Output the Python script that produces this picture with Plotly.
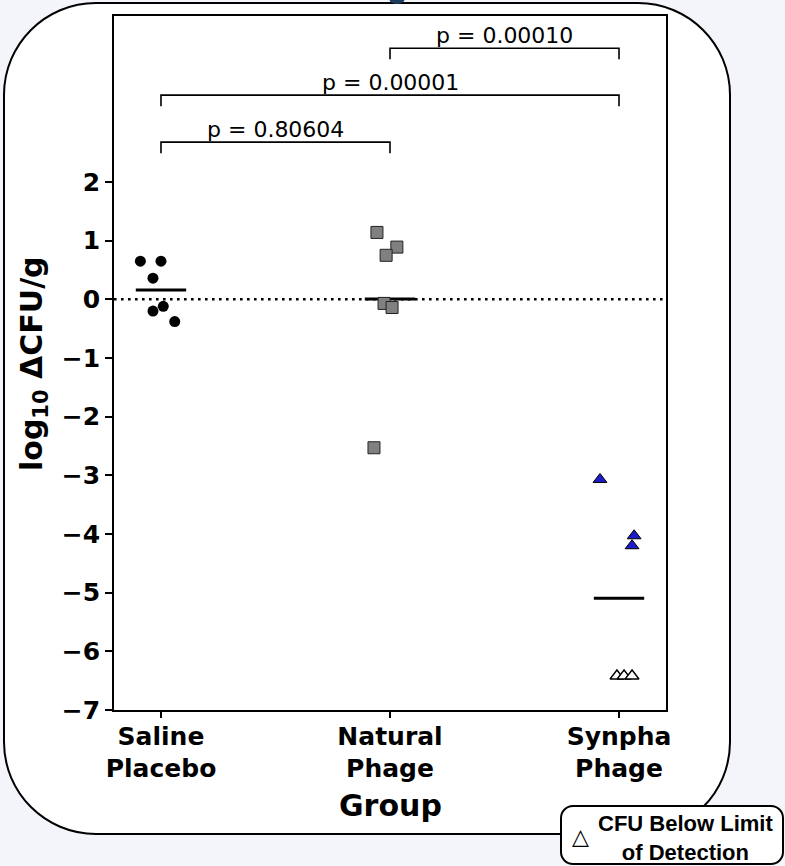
import numpy as np
import plotly.graph_objects as go

# ---------------- data ----------------
categories = ["Saline<br>Placebo", "Natural<br>Phage", "Synpha<br>Phage"]
cat_pos = [0, 1, 2]

saline_vals = [0.65, 0.65, 0.36, -0.20, -0.12, -0.38]
saline_jit = [-0.09, 0.00, -0.035, -0.035, 0.01, 0.06]

natural_vals = [1.14, 0.89, 0.75, -0.07, -0.14, -2.53]
natural_jit = [-0.057, 0.03, -0.017, -0.026, 0.009, -0.07]

synpha_vals = [-3.07, -4.03, -4.20]
synpha_jit = [-0.083, 0.066, 0.057]
synpha_lod_vals = [-6.42, -6.42, -6.42]
synpha_lod_jit = [-0.009, 0.022, 0.057]

pairs = [(0, 1), (0, 2), (1, 2)]
p_values = ["p = 0.80604", "p = 0.00001", "p = 0.00010"]
bracket_y = [2.68, 3.48, 4.28]

y_ticks = [2, 1, 0, -1, -2, -3, -4, -5, -6, -7]

# ---------------- layout helpers ----------------
W, H = 785, 866


def px(x):
    return x / W


def py(y):
    return 1 - y / H


def rounded_rect(x0, y0, x1, y1, r):
    k = 0.5523 * r
    pts = []
    pts.append(f"M {px(x0 + r)} {py(y0)}")
    pts.append(f"L {px(x1 - r)} {py(y0)}")
    pts.append(f"C {px(x1 - r + k)} {py(y0)} {px(x1)} {py(y0 + r - k)} {px(x1)} {py(y0 + r)}")
    pts.append(f"L {px(x1)} {py(y1 - r)}")
    pts.append(f"C {px(x1)} {py(y1 - r + k)} {px(x1 - r + k)} {py(y1)} {px(x1 - r)} {py(y1)}")
    pts.append(f"L {px(x0 + r)} {py(y1)}")
    pts.append(f"C {px(x0 + r - k)} {py(y1)} {px(x0)} {py(y1 - r + k)} {px(x0)} {py(y1 - r)}")
    pts.append(f"L {px(x0)} {py(y0 + r)}")
    pts.append(f"C {px(x0)} {py(y0 + r - k)} {px(x0 + r - k)} {py(y0)} {px(x0 + r)} {py(y0)}")
    pts.append("Z")
    return " ".join(pts)


fig = go.Figure()

# mean lines
half = 0.11
groups = [
    (0, saline_vals),
    (1, natural_vals),
    (2, synpha_vals + synpha_lod_vals),
]
for c, vals in groups:
    m = float(np.mean(vals))
    fig.add_trace(go.Scatter(
        x=[cat_pos[c] - half, cat_pos[c] + half], y=[m, m], mode="lines",
        line=dict(color="black", width=3), hoverinfo="skip", showlegend=False))

# brackets
drop = 0.19
for (a, b), yb in zip(pairs, bracket_y):
    fig.add_trace(go.Scatter(
        x=[cat_pos[a], cat_pos[a], cat_pos[b], cat_pos[b]],
        y=[yb - drop, yb, yb, yb - drop], mode="lines",
        line=dict(color="black", width=1.6), hoverinfo="skip", showlegend=False))

# points
fig.add_trace(go.Scatter(
    x=[cat_pos[0] + j for j in saline_jit], y=saline_vals, mode="markers",
    marker=dict(symbol="circle", size=11, color="black", line=dict(width=0)),
    showlegend=False))
fig.add_trace(go.Scatter(
    x=[cat_pos[1] + j for j in natural_jit], y=natural_vals, mode="markers",
    marker=dict(symbol="square", size=12, color="#808080",
                line=dict(color="#222222", width=1)),
    showlegend=False))
fig.add_trace(go.Scatter(
    x=[cat_pos[2] + j for j in synpha_jit], y=synpha_vals, mode="markers",
    marker=dict(symbol="triangle-up", size=12, color="#1c1cc8",
                line=dict(color="black", width=1)),
    showlegend=False))
fig.add_trace(go.Scatter(
    x=[cat_pos[2] + j for j in synpha_lod_jit], y=synpha_lod_vals, mode="markers",
    marker=dict(symbol="triangle-up", size=12, color="white",
                line=dict(color="black", width=1.4)),
    showlegend=False))

shapes = [
    # outer rounded panel
    dict(type="path", xref="paper", yref="paper", layer="below",
         path=rounded_rect(4, 3, 730, 834, 92),
         fillcolor="white", line=dict(color="black", width=2)),
    # zero reference line
    dict(type="line", xref="x domain", yref="y", x0=0, x1=1, y0=0, y1=0,
         layer="below", line=dict(color="black", width=2.6, dash="2.6px,4.4px")),
    # legend-like box
    dict(type="path", xref="paper", yref="paper", layer="below",
         path=rounded_rect(561, 806, 783, 864, 12),
         fillcolor="white", line=dict(color="black", width=2)),
    # clipped fragment of a title above the page
    dict(type="circle", xref="paper", yref="paper", layer="above",
         x0=px(389), x1=px(405), y0=py(4), y1=py(-8),
         fillcolor="#1b3a5c", line=dict(width=0)),
]

annotations = []
for (a, b), yb, txt in zip(pairs, bracket_y, p_values):
    annotations.append(dict(
        x=(cat_pos[a] + cat_pos[b]) / 2, y=yb + 0.21, xref="x", yref="y",
        text=txt, showarrow=False, xanchor="center", yanchor="middle",
        font=dict(family="DejaVu Sans", size=22, color="black")))

annotations.append(dict(
    x=px(33), y=py(364), xref="paper", yref="paper", textangle=-90,
    xanchor="center", yanchor="middle",
    text="log<sub>10</sub> ΔCFU/g", showarrow=False,
    font=dict(family="DejaVu Sans", size=30, color="black", weight="bold")))
annotations.append(dict(
    x=px(390), y=py(805), xref="paper", yref="paper",
    xanchor="center", yanchor="middle",
    text="Group", showarrow=False,
    font=dict(family="DejaVu Sans", size=30, color="black", weight="bold")))
annotations.append(dict(
    x=px(580), y=py(836), xref="paper", yref="paper",
    xanchor="center", yanchor="middle",
    text="△", showarrow=False,
    font=dict(family="DejaVu Sans", size=22, color="black", weight="bold")))
annotations.append(dict(
    x=px(685), y=py(838), xref="paper", yref="paper",
    xanchor="center", yanchor="middle",
    text="CFU Below Limit<br>of Detection", showarrow=False,
    font=dict(family="Liberation Sans", size=22, color="black", weight="bold")))

fig.update_layout(
    width=W, height=H,
    margin=dict(l=0, r=0, t=0, b=0, pad=0, autoexpand=False),
    paper_bgcolor="#f3f5fb",
    plot_bgcolor="rgba(0,0,0,0)",
    shapes=shapes,
    annotations=annotations,
    xaxis=dict(
        domain=[px(114), px(666)], range=[-0.2052, 2.2052], automargin=False,
        tickvals=cat_pos, ticktext=categories,
        showgrid=False, zeroline=False,
        showline=True, linecolor="black", linewidth=1.6, mirror=True,
        ticks="outside", ticklen=6, tickwidth=1.5, tickcolor="black",
        ticklabelstandoff=-3,
        tickfont=dict(family="DejaVu Sans", size=25, color="black", weight="bold"),
    ),
    yaxis=dict(
        domain=[py(710), py(16)], range=[-7, 4.829], automargin=False,
        tickvals=y_ticks,
        showgrid=False, zeroline=False,
        showline=True, linecolor="black", linewidth=1.6, mirror=True,
        ticks="outside", ticklen=7, tickwidth=1.5, tickcolor="black",
        tickfont=dict(family="DejaVu Sans", size=25, color="black", weight="bold"),
    ),
)

fig.write_html("out.html")
